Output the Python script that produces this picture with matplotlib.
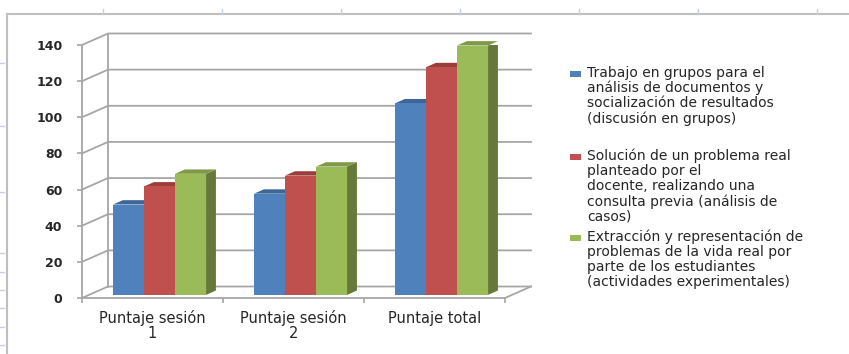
import matplotlib.pyplot as plt
from matplotlib.patches import Polygon, Rectangle
from matplotlib.lines import Line2D

# --- DATA ---
categories = ["Puntaje sesión\n1", "Puntaje sesión\n2", "Puntaje total"]
series_names = [
    "Trabajo en grupos para el\nanálisis de documentos y\nsocialización de resultados\n(discusión en grupos)",
    "Solución de un problema real\nplanteado por el\ndocente, realizando una\nconsulta previa (análisis de\ncasos)",
    "Extracción y representación de\nproblemas de la vida real por\nparte de los estudiantes\n(actividades experimentales)",
]
grupos = [50, 56, 106]
casos = [60, 66, 126]
experimentales = [67, 71, 138]
y_ticks = [0, 20, 40, 60, 80, 100, 120, 140]

# --- STYLE ---
front_colors = ["#4f81bd", "#c0504d", "#9bbb59"]
top_colors = ["#3d6796", "#9c3d3a", "#7f9a47"]
side_colors = ["#35587f", "#853633", "#66793a"]
grid_color = "#a6a6a6"
text_color = "#262626"

W, H = 849, 354
fig = plt.figure(figsize=(W / 100, H / 100), dpi=100)
fig.patch.set_facecolor("white")

# plot area: front axis from (82, 298) to (505, 45) in pixels
ax = fig.add_axes([82 / W, (H - 298) / H, (505 - 82) / W, (298 - 45) / H])
ax.set_xlim(-0.5, 2.5)
ax.set_ylim(0, 140)

# depth of the back wall in data units
DX = 26 / 141
DY = 11.5 * 140 / 253
# bars sit part way into the floor
f_front = 0.27
f_depth = 0.38
bar_w = 0.22

# back wall gridlines, with diagonals to the front axis
for v in y_ticks:
    ax.plot([-0.5, -0.5 + DX, 2.5 + DX], [v, v + DY, v + DY],
            color=grid_color, lw=1.3, clip_on=False, zorder=1)
ax.plot([-0.5 + DX, -0.5 + DX], [DY, 140 + DY], color=grid_color, lw=1.3,
        clip_on=False, zorder=1)
ax.plot([2.5, 2.5 + DX], [0, DY], color=grid_color, lw=1.3, clip_on=False, zorder=1)

# 3D bars: front face via ax.bar, top and side faces as polygons
series = [grupos, casos, experimentales]
for i, vals in enumerate(series):
    xs = [c + (i - 1) * bar_w + f_front * DX for c in range(len(categories))]
    base = f_front * DY
    ddx, ddy = f_depth * DX, f_depth * DY
    for x, v in zip(xs, vals):
        xl, xr = x - bar_w / 2, x + bar_w / 2
        top = base + v
        side = Polygon([(xr, base), (xr + ddx, base + ddy), (xr + ddx, top + ddy), (xr, top)],
                       closed=True, facecolor=side_colors[i], edgecolor="none", zorder=2 + i)
        lid = Polygon([(xl, top), (xr, top), (xr + ddx, top + ddy), (xl + ddx, top + ddy)],
                      closed=True, facecolor=top_colors[i], edgecolor="none", zorder=2 + i,
                      clip_on=False)
        ax.add_patch(side)
        ax.add_patch(lid)
    ax.bar(xs, vals, width=bar_w, bottom=base, color=front_colors[i],
           edgecolor="none", zorder=2 + i)

# axes styling
for s in ["top", "right"]:
    ax.spines[s].set_visible(False)
for s in ["left", "bottom"]:
    ax.spines[s].set_color(grid_color)
    ax.spines[s].set_linewidth(1.3)
ax.patch.set_alpha(0)

ax.set_yticks(y_ticks)
ax.set_yticklabels([str(t) for t in y_ticks])
ax.tick_params(axis="y", length=3.6, width=1.2, color=grid_color, pad=10.5,
               labelsize=9, labelcolor=text_color)
for lbl in ax.get_yticklabels():
    lbl.set_fontweight("bold")
ax.set_xticks(range(len(categories)))
ax.set_xticklabels(categories)
ax.set_xticks([-0.5, 0.5, 1.5, 2.5], minor=True)
ax.tick_params(axis="x", which="major", length=0, pad=9, labelsize=10.5,
               labelcolor=text_color)
ax.tick_params(axis="x", which="minor", length=3.6, width=1.2, color=grid_color)
for lbl in ax.get_xticklabels():
    lbl.set_linespacing(0.95)

# legend
leg_y = [74, 157, 238]
for name, color, yc in zip(series_names, front_colors, leg_y):
    fig.add_artist(Rectangle((570 / W, (H - yc - 3) / H), 11 / W, 6 / H,
                             transform=fig.transFigure, facecolor=color, edgecolor="none"))
    fig.text(587 / W, (H - yc + 8) / H, name, fontsize=10, color=text_color,
             va="top", ha="left", linespacing=1.08)

# chart border (top and left)
fig.add_artist(Line2D([7 / W, 1], [(H - 14) / H] * 2, color="#bfbfbf", lw=1.5))
fig.add_artist(Line2D([7 / W] * 2, [0, (H - 14) / H], color="#bfbfbf", lw=1.5))
# faint sheet tick marks around the border
for px in [103, 222, 341, 460, 579, 698, 817]:
    fig.add_artist(Line2D([px / W] * 2, [(H - 9) / H, (H - 14) / H], color="#c5cfdd", lw=1))
for py in [63, 126, 192, 253, 272, 290, 308, 327, 345]:
    fig.add_artist(Line2D([0, 4 / W], [(H - py) / H] * 2, color="#c5cfdd", lw=1))

fig.savefig("out.png", dpi=100, facecolor="white")
